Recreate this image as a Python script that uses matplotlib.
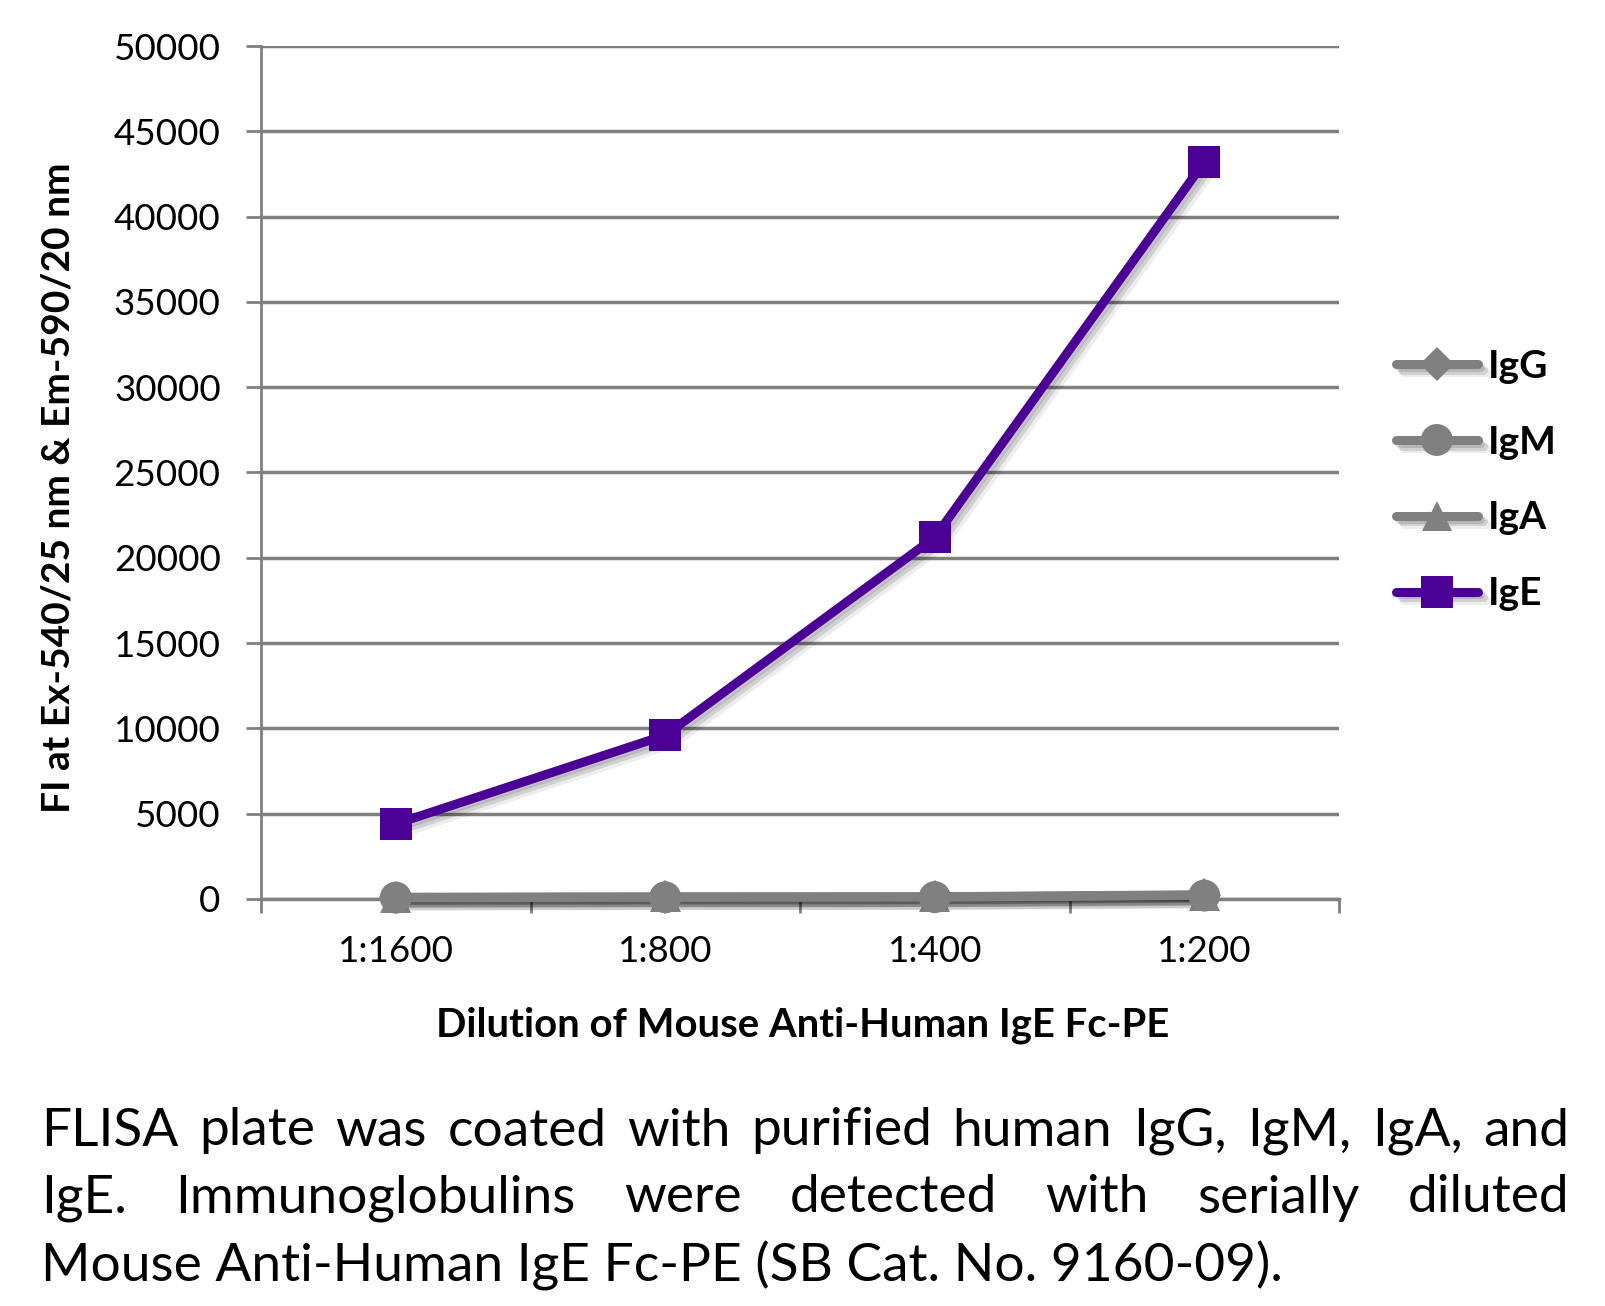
import matplotlib
matplotlib.use('Agg')
import matplotlib.pyplot as plt
import matplotlib.patheffects as pe

# dilution categories and FI readings
dilutions = ['1:1600', '1:800', '1:400', '1:200']
igg = [100, 120, 130, 250]
igm = [80, 100, 110, 200]
iga = [90, 110, 120, 220]
ige = [4400, 9600, 21200, 43200]

GRAY = '#808080'
PURPLE = '#4B0096'
FONT = 'Lato'
W, H = 1605, 1306

plt.rcParams['font.family'] = [FONT, 'DejaVu Sans']

fig = plt.figure(figsize=(W / 100, H / 100), dpi=100)
ax = fig.add_axes([261 / W, 1 - 899 / H, (1339 - 261) / W, (899 - 46) / H])

# soft drop shadow like the original
shadow = [pe.SimpleLineShadow(offset=(6, -6), shadow_color='k', alpha=0.07),
          pe.SimpleLineShadow(offset=(4, -4), shadow_color='k', alpha=0.12),
          pe.SimpleLineShadow(offset=(2, -2), shadow_color='k', alpha=0.12),
          pe.Normal()]

x = range(len(dilutions))
# IgM circles sit on top of the other grey markers
series = [('IgG', igg, 'D', GRAY, 17, 3), ('IgM', igm, 'o', GRAY, 23, 5),
          ('IgA', iga, '^', GRAY, 22, 4), ('IgE', ige, 's', PURPLE, 23, 6)]
handles = []
for name, vals, mk, col, ms, z in series:
    h, = ax.plot(x, vals, color=col, linewidth=6.5, marker=mk, markersize=ms,
                 markeredgewidth=0, label=name, path_effects=shadow, zorder=z,
                 solid_capstyle='round', clip_on=False)
    handles.append(h)

ax.set_xlim(-0.5, 3.5)
ax.set_ylim(0, 50000)
ax.set_yticks(range(0, 50001, 5000))
ax.set_xticks(x)
ax.set_xticklabels(dilutions)
ax.set_xticks([-0.5, 0.5, 1.5, 2.5, 3.5], minor=True)
ax.tick_params(axis='x', which='major', length=0, pad=26, labelsize=26.5)
ax.tick_params(axis='x', which='minor', length=10, width=2, color=GRAY)
ax.tick_params(axis='y', length=11, width=2, color=GRAY, pad=18, labelsize=26.5)

ax.yaxis.grid(True, color=GRAY, linewidth=2.5)
ax.set_axisbelow(True)
for s in ['top', 'right']:
    ax.spines[s].set_visible(False)
ax.spines['left'].set_color(GRAY)
ax.spines['left'].set_linewidth(2)
ax.spines['bottom'].set_color(GRAY)
ax.spines['bottom'].set_linewidth(2.5)

ylab = fig.text(58 / W, 1 - 488 / H, 'FI at Ex-540/25 nm & Em-590/20 nm', fontsize=26,
                fontweight='bold', rotation=90, ha='center', va='center')
xlab = fig.text(803 / W, 1 - 1025 / H, 'Dilution of Mouse Anti-Human IgE Fc-PE', fontsize=26,
                fontweight='bold', ha='center', va='center')

fig.legend(handles=handles, loc='center left', bbox_to_anchor=(1396 / W, 1 - 480 / H),
           bbox_transform=fig.transFigure, frameon=False, borderpad=0, borderaxespad=0,
           handlelength=2.1, handletextpad=0.25, labelspacing=1.05,
           prop={'family': FONT, 'weight': 'bold', 'size': 28})

fig.canvas.draw()
r = fig.canvas.get_renderer()


def fit(t, target):
    # scale font so text spans target pixels
    bb = t.get_window_extent(r)
    span = bb.height if t.get_rotation() == 90 else bb.width
    t.set_fontsize(t.get_fontsize() * target / span)


fit(ylab, 650)
fit(xlab, 733)

# justified caption
lines = ['FLISA plate was coated with purified human IgG, IgM, IgA, and',
         'IgE.  Immunoglobulins were detected with serially diluted',
         'Mouse Anti-Human IgE Fc-PE (SB Cat. No. 9160-09).']
ys = [1131, 1198, 1266]
x0, x1 = 41 / W, 1569 / W
last = fig.text(x0, 1 - ys[2] / H, lines[2], fontsize=35, va='center', ha='left')
fit(last, 1241)
fs = last.get_fontsize()
for line, yy in zip(lines[:2], ys[:2]):
    yf = 1 - yy / H
    words = line.split()
    ts = [fig.text(0, yf, w, fontsize=fs, va='center', ha='left') for w in words]
    widths = [t.get_window_extent(r).width / fig.bbox.width for t in ts]
    gap = (x1 - x0 - sum(widths)) / (len(words) - 1)
    pos = x0
    for t, w in zip(ts, widths):
        t.set_x(pos)
        pos += w + gap

fig.savefig('out.png', dpi=100)
